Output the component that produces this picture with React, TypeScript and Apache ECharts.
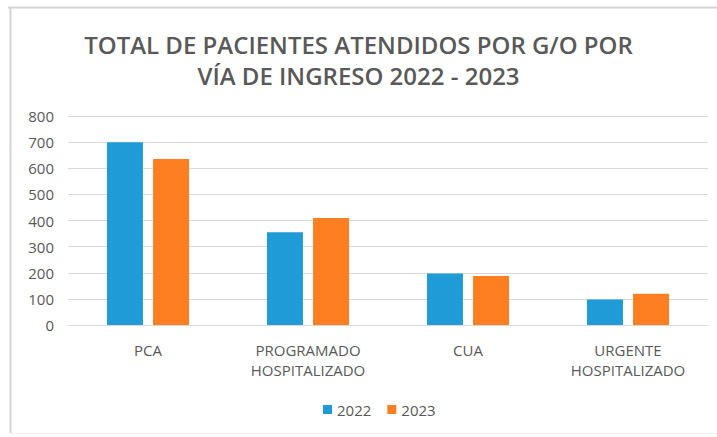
import React, { useEffect, useRef } from "react";
import * as echarts from "echarts";

const categories = ["PCA", "PROGRAMADO\nHOSPITALIZADO", "CUA", "URGENTE\nHOSPITALIZADO"];
const values2022 = [700, 355, 197, 98];
const values2023 = [635, 410, 188, 120];
const seriesNames = ["2022", "2023"];
const titleText = "TOTAL DE PACIENTES ATENDIDOS POR G/O POR\nVÍA DE INGRESO 2022 - 2023";

const FONT = "'Open Sans', 'Noto Sans', sans-serif";

export default function App() {
  const ref = useRef<HTMLDivElement>(null);
  useEffect(() => {
    if (!ref.current) return;
    const chart = echarts.init(ref.current, undefined, { renderer: "svg" });
    chart.setOption({
      animation: false,
      backgroundColor: "#ffffff",
      title: {
        text: titleText,
        left: "center",
        top: 24,
        textStyle: {
          fontFamily: FONT,
          fontSize: 24,
          fontWeight: 600,
          color: "#595959",
          lineHeight: 31,
        },
      },
      legend: {
        data: seriesNames,
        bottom: 15,
        left: 318,
        icon: "rect",
        itemWidth: 9,
        itemHeight: 9,
        itemGap: 16,
        textStyle: { fontFamily: FONT, fontSize: 15, color: "#595959" },
      },
      grid: { left: 68, right: 9, top: 116, bottom: 112, containLabel: false },
      xAxis: {
        type: "category",
        data: categories,
        axisLine: { show: true, lineStyle: { color: "#d9d9d9", width: 1 } },
        axisTick: { show: false },
        axisLabel: {
          fontFamily: FONT,
          fontSize: 15,
          color: "#595959",
          lineHeight: 20,
          margin: 15,
          interval: 0,
        },
      },
      yAxis: {
        type: "value",
        min: 0,
        max: 800,
        interval: 100,
        axisLine: { show: false },
        axisTick: { show: false },
        splitLine: { lineStyle: { color: "#d9d9d9", width: 1 } },
        axisLabel: { fontFamily: FONT, fontSize: 15, color: "#595959", margin: 14 },
      },
      series: [
        {
          name: seriesNames[0],
          type: "bar",
          data: values2022,
          barWidth: 36,
          barGap: "28%",
          itemStyle: { color: "#1f9bd7" },
        },
        {
          name: seriesNames[1],
          type: "bar",
          data: values2023,
          barWidth: 36,
          barGap: "28%",
          itemStyle: { color: "#fd7f22" },
        },
      ],
      graphic: [
        { type: "line", shape: { x1: 8, y1: 7.5, x2: 717, y2: 7.5 }, style: { stroke: "#d4d4d4", lineWidth: 2 } },
        { type: "line", shape: { x1: 10.5, y1: 7, x2: 10.5, y2: 433 }, style: { stroke: "#d4d4d4", lineWidth: 2 } },
        { type: "line", shape: { x1: 10, y1: 433.5, x2: 717, y2: 433.5 }, style: { stroke: "#efefef", lineWidth: 1 } },
      ],
    });
    return () => chart.dispose();
  }, []);
  return (
    <div
      ref={ref}
      style={{ position: "fixed", left: 0, top: 0, width: 717, height: 437 }}
    />
  );
}
